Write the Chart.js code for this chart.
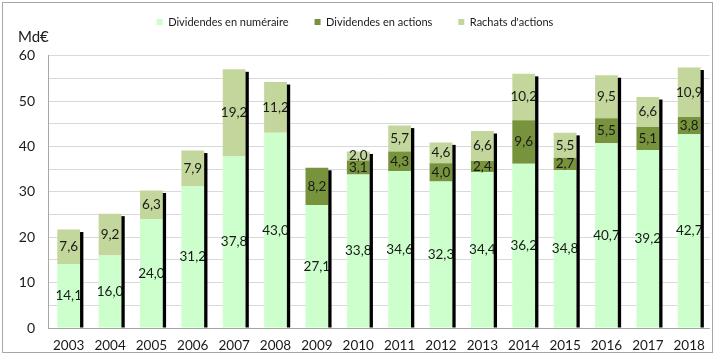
<!DOCTYPE html>
<html>
<head>
<meta charset="utf-8">
<script src="https://cdn.jsdelivr.net/npm/chart.js@4.4.1/dist/chart.umd.min.js"></script>
<style>
  html, body { margin: 0; padding: 0; background: #fff; }
  #wrap { width: 715px; height: 355px; position: relative; }
</style>
</head>
<body>
<div id="wrap"><canvas id="c" width="715" height="355"></canvas></div>
<script>
const years = ['2003','2004','2005','2006','2007','2008','2009','2010','2011','2012','2013','2014','2015','2016','2017','2018'];
const cashDividends = [14.1,16.0,24.0,31.2,37.8,43.0,27.1,33.8,34.6,32.3,34.4,36.2,34.8,40.7,39.2,42.7];
const stockDividends = [null,null,null,null,null,null,8.2,3.1,4.3,4.0,2.4,9.6,2.7,5.5,5.1,3.8];
const buybacks = [7.6,9.2,6.3,7.9,19.2,11.2,null,2.0,5.7,4.6,6.6,10.2,5.5,9.5,6.6,10.9];
const seriesNames = ['Dividendes en numéraire','Dividendes en actions',"Rachats d'actions"];
const unitLabel = 'Md€';

const FONT = 'Lato';

const bgAndExtras = {
  id: 'bgAndExtras',
  beforeDraw(chart) {
    const ctx = chart.ctx;
    ctx.save();
    ctx.fillStyle = '#ffffff';
    ctx.fillRect(0, 0, chart.width, chart.height);
    ctx.strokeStyle = '#a6a6a6';
    ctx.lineWidth = 1;
    ctx.strokeRect(2.5, 2.5, 710, 350);
    ctx.fillStyle = '#1a1a1a';
    ctx.font = '15px ' + FONT;
    ctx.textBaseline = 'middle';
    ctx.textAlign = 'left';
    ctx.fillText(unitLabel, 18, 37);
    ctx.restore();
  },
  afterDatasetsDraw(chart) {
    const ctx = chart.ctx;
    ctx.save();
    ctx.font = '13.5px ' + FONT;
    ctx.fillStyle = '#1a1a1a';
    ctx.textAlign = 'center';
    ctx.textBaseline = 'middle';
    chart.data.datasets.forEach((ds, di) => {
      const meta = chart.getDatasetMeta(di);
      meta.data.forEach((el, i) => {
        const v = ds.data[i];
        if (v == null) return;
        ctx.fillText(v.toFixed(1).replace('.', ','), el.x, (el.y + el.base) / 2);
      });
    });
    ctx.fillStyle = '#000000';
    const n = chart.data.labels.length;
    for (let i = 0; i < n; i++) {
      let top = null, base = null, x = null, w = null;
      chart.data.datasets.forEach((ds, di) => {
        if (ds.data[i] == null) return;
        const el = chart.getDatasetMeta(di).data[i];
        if (top === null || el.y < top) top = el.y;
        if (base === null || el.base > base) base = el.base;
        x = el.x; w = el.width;
      });
      if (top === null) continue;
      ctx.fillRect(x + w / 2, top + 2.5, 3.3, base - top - 2.5);
    }
    ctx.restore();
  }
};

new Chart(document.getElementById('c'), {
  type: 'bar',
  data: {
    labels: years,
    datasets: [
      { label: seriesNames[0], data: cashDividends, backgroundColor: '#CCFFCC' },
      { label: seriesNames[1], data: stockDividends, backgroundColor: '#77933C' },
      { label: seriesNames[2], data: buybacks, backgroundColor: '#C3D69B' }
    ]
  },
  options: {
    responsive: false,
    devicePixelRatio: 1,
    animation: false,
    layout: { padding: { top: -9.5, left: 0, right: 5, bottom: 0 } },
    datasets: { bar: { barPercentage: 0.55, categoryPercentage: 1.0 } },
    plugins: {
      legend: {
        position: 'top',
        labels: {
          font: { family: FONT, size: 11 },
          color: '#1a1a1a',
          boxWidth: 6,
          boxHeight: 6,
          padding: 26
        }
      },
      tooltip: { enabled: false }
    },
    scales: {
      x: {
        stacked: true,
        grid: { display: false, drawTicks: false },
        border: { color: '#a6a6a6' },
        ticks: { font: { family: FONT, size: 13.5 }, color: '#1a1a1a', padding: 10, maxRotation: 0, autoSkip: false },
        afterFit(s) { s.height = 27; }
      },
      xTop: {
        type: 'linear',
        position: 'top',
        display: true,
        ticks: { display: false },
        grid: { display: false, drawTicks: false },
        border: { display: false },
        afterFit(s) { s.height = 18.2; }
      },
      y: {
        stacked: true,
        min: 0, max: 60,
        grid: { color: '#d9d9d9', drawTicks: false },
        border: { color: '#a6a6a6' },
        ticks: {
          stepSize: 5,
          font: { family: FONT, size: 14 },
          color: '#1a1a1a',
          padding: 13,
          callback: (v) => (v % 10 === 0 ? String(v) : '')
        },
        afterFit(s) { s.width = 48; }
      }
    }
  },
  plugins: [bgAndExtras]
});
</script>
</body>
</html>
